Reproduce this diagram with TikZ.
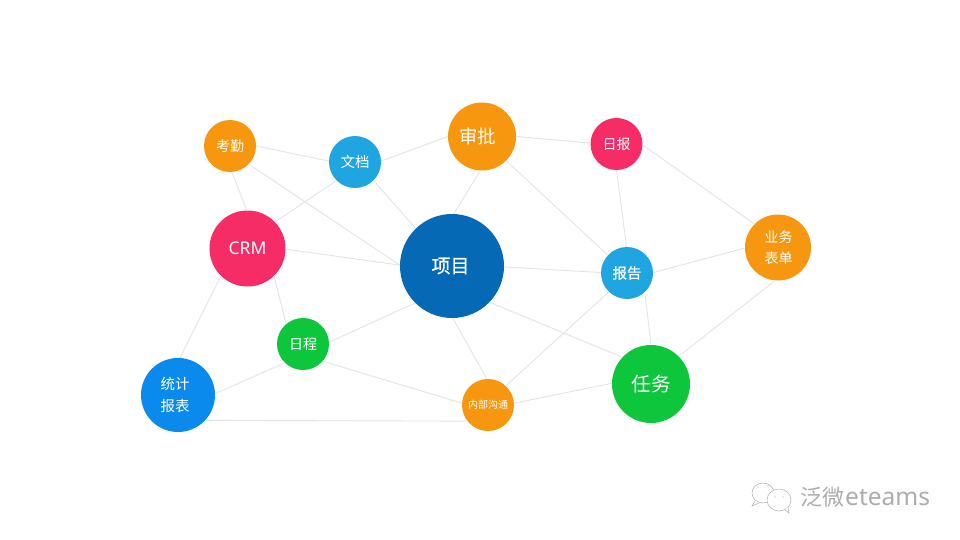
\documentclass[tikz,border=0pt]{standalone}
\usepackage{fontspec}
\setmainfont{Noto Sans CJK SC}
\setsansfont{Noto Sans}
\newfontfamily\cjkheavy[FakeBold=0.7]{Noto Sans CJK SC}
\definecolor{corange}{HTML}{F7970F}
\definecolor{cblue}{HTML}{1FA5DF}
\definecolor{cpink}{HTML}{F52C66}
\definecolor{cgreen}{HTML}{0DC63B}
\definecolor{cdeep}{HTML}{0569B6}
\definecolor{cbright}{HTML}{0A8AEC}
\definecolor{cedge}{HTML}{E4E3EA}
\definecolor{cmark}{HTML}{ADADAD}
\tikzset{
  bubble/.style={circle,inner sep=0pt,text=white,align=center},
  link/.style={draw=cedge,line width=0.9pt},
  markline/.style={draw=cmark,line width=0.5pt,fill=white},
  markdot/.style={circle,fill=cmark,inner sep=0pt,minimum size=1.4pt},
  marktext/.style={text=cmark,inner sep=0pt,anchor=west}
}
\begin{document}
\begin{tikzpicture}[x=1pt,y=-1pt]
\useasboundingbox (0,0) rectangle (960,540);
\fill[white] (0,0) rectangle (960,540);
\node[bubble,fill=corange,minimum size=52pt,font=\fontsize{14}{16}\selectfont] (kq) at (230,146) {\raisebox{1pt}{考勤}};
\node[bubble,fill=cblue,minimum size=52pt,font=\fontsize{14.5}{16}\selectfont] (wd) at (355,162) {\raisebox{1pt}{文档}};
\node[bubble,fill=corange,minimum size=68pt,font=\fontsize{18.5}{20}\selectfont] (sp) at (482,136.5) {\hspace*{-9pt}\raisebox{1pt}{审批}};
\node[bubble,fill=cpink,minimum size=52pt,font=\fontsize{14}{16}\selectfont] (rb) at (616.5,144) {\raisebox{1pt}{日报}};
\node[bubble,fill=cpink,minimum size=76pt,font=\sffamily\fontsize{17.5}{19}\selectfont] (crm) at (247.5,248.5) {\raisebox{-1pt}{CRM}};
\node[bubble,fill=cdeep,minimum size=104pt,font=\cjkheavy\fontsize{19}{21}\selectfont] (xm) at (452,266) {\hspace*{-3pt}\raisebox{-1pt}{项目}};
\node[bubble,fill=cblue,minimum size=52pt,font=\cjkheavy\fontsize{14.5}{16}\selectfont] (bg) at (627,273) {报告};
\node[bubble,fill=corange,minimum size=66pt,font=\fontsize{14}{20}\selectfont] (yw) at (778,247.5) {\hspace*{1pt}业务\\\hspace*{1pt}\raisebox{-1pt}{表单}};
\node[bubble,fill=cgreen,minimum size=52pt,font=\fontsize{14}{16}\selectfont] (rc) at (303,344) {日程};
\node[bubble,fill=cbright,minimum size=74pt,font=\fontsize{14.5}{21}\selectfont] (tj) at (178,395) {\hspace*{-6pt}\raisebox{-1.5pt}{统计}\\\hspace*{-6pt}\raisebox{-2.5pt}{报表}};
\node[bubble,fill=corange,minimum size=52pt,font=\fontsize{10}{12}\selectfont] (nb) at (488,405) {\raisebox{1pt}{内部沟通}};
\node[bubble,fill=cgreen,minimum size=78pt,font=\fontsize{19.5}{21}\selectfont] (rw) at (651,384) {任务};
\foreach \a/\p/\b/\q in {kq/0/wd/178,kq/-86/crm/91,kq/-44/xm/179,wd/2/sp/180,wd/-135/crm/44,wd/-45/xm/134,sp/-93/xm/88,sp/0/rb/178,sp/-45/bg/137,rb/-90/bg/91,rb/-2/yw/135,crm/-1/xm/179,crm/-46/rc/130,crm/-134/tj/87,xm/-1/bg/179,xm/-135/rc/4,xm/-89/nb/93,xm/-44/rw/137,bg/1/yw/181,bg/-47/rw/90,bg/-134/nb/47,yw/-95/rw/45,rc/-134/tj/2,rc/-41/nb/176,tj/-43/nb/-142,nb/4/rw/179}
  \draw[link] (\a.\p) -- (\b.\q);
% watermark
\draw[markline] (763,493) ellipse (11 and 10);
\draw[markline] (755,501) -- (752,506) -- (759,503);
\draw[markline] (779,500) ellipse (12 and 11);
\draw[markline] (785,510) -- (789,513) -- (788,507);
\node[markdot] (e1) at (758,487) {};
\node[markdot] (e2) at (768,486) {};
\node[markdot] (e3) at (775,497) {};
\node[markdot] (e4) at (783,497) {};
\node[marktext,font=\fontsize{22}{24}\selectfont] (wm) at (800,497) {泛微\hspace{1pt}{\sffamily\fontsize{24.5}{26}\selectfont eteams}};
\end{tikzpicture}
\end{document}
